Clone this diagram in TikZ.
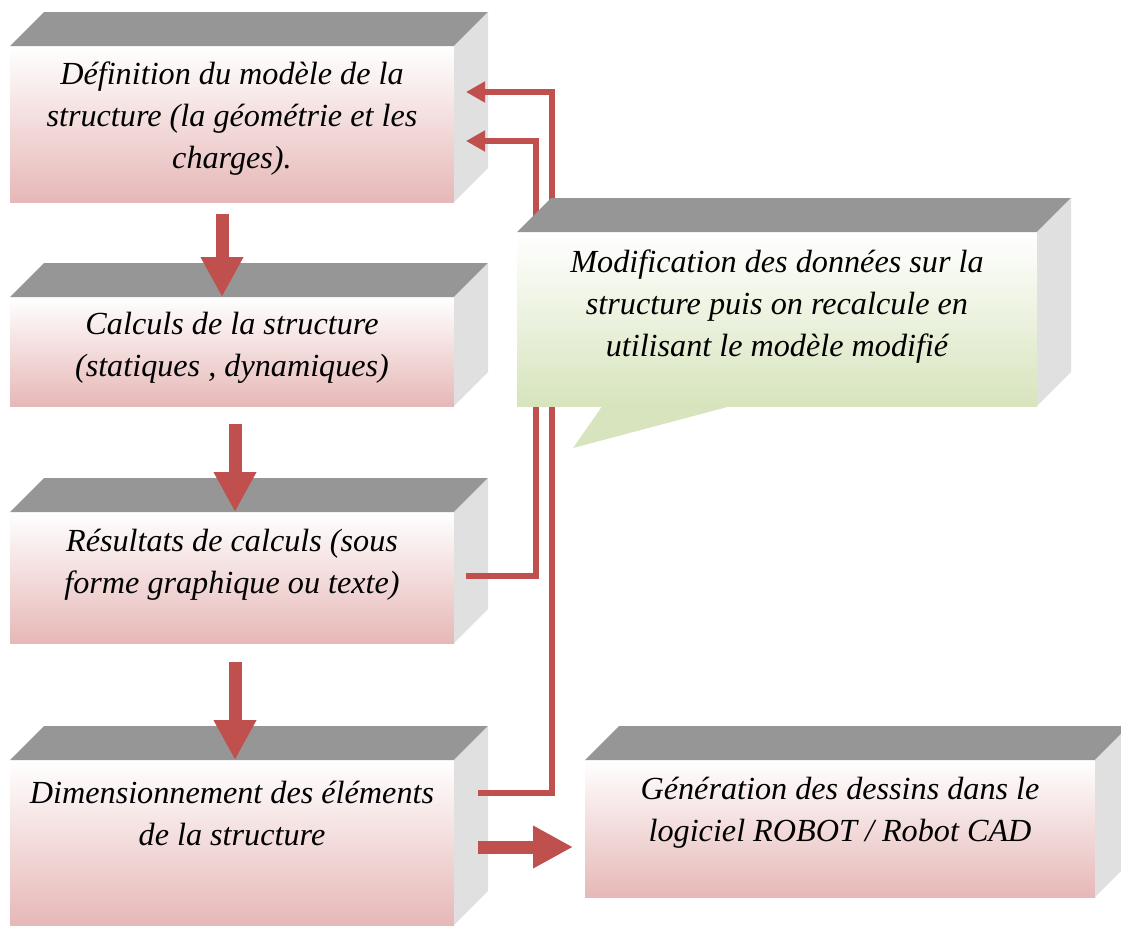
\documentclass[tikz,border=0pt]{standalone}
\usepackage{fontspec}
\setmainfont{Liberation Serif}
\usetikzlibrary{calc,arrows.meta}
\definecolor{redA}{HTML}{C0504D}
\definecolor{pinkB}{HTML}{E6B8B7}
\definecolor{greenB}{HTML}{D7E4BD}
\definecolor{topG}{HTML}{969696}
\definecolor{sideG}{HTML}{E0E0E0}
\newcommand\boxfaces[1]{%
  \fill[topG] (#1.north west) -- ++(34,-34) -- ($(#1.north east)+(34,-34)$) -- (#1.north east) -- cycle;
  \fill[sideG] (#1.north east) -- ++(34,-34) -- ($(#1.south east)+(34,-34)$) -- (#1.south east) -- cycle;}
\begin{document}
\begin{tikzpicture}[x=1pt,y=-1pt,
  front/.style={rectangle,draw=none,inner sep=0pt,outer sep=0pt,top color=white,bottom color=pinkB},
  gfront/.style={rectangle,draw=none,inner sep=0pt,outer sep=0pt,top color=white,bottom color=greenB},
  txt/.style={align=center,inner sep=0pt,font=\itshape\fontsize{32.2}{42}\selectfont},
  bigarrow/.style={draw=redA,line width=13pt,-{Triangle[length=40pt,width=40pt]}},
  fbline/.style={draw=redA,line width=6pt,line join=miter,-{Triangle[length=19pt,width=20pt]}}]
\useasboundingbox (0,0) rectangle (1121,927);
% main boxes
\node[front,minimum width=444pt,minimum height=156pt] (b1) at (232,124) {};
\boxfaces{b1}
\node[front,minimum width=444pt,minimum height=109pt] (b2) at (232,351.5) {};
\boxfaces{b2}
\node[front,minimum width=444pt,minimum height=131pt] (b3) at (232,577.5) {};
\boxfaces{b3}
\node[front,minimum width=444pt,minimum height=165pt] (b4) at (232,842.5) {};
\boxfaces{b4}
\node[front,minimum width=510pt,minimum height=137pt] (b5) at (840,828.5) {};
\boxfaces{b5}
% feedback lines
\coordinate (o1) at (478,793);
\coordinate (o2) at (552,793);
\coordinate (o3) at (552,92);
\coordinate (o4) at (466,92);
\coordinate (i1) at (466,576);
\coordinate (i2) at (536,576);
\coordinate (i3) at (536,141);
\coordinate (i4) at (466,141);
\draw[fbline] (o1) -- (o2) -- (o3) -- (o4);
\draw[fbline] (i1) -- (i2) -- (i3) -- (i4);
% callout
\fill[greenB] (603,405) -- (573,448) -- (735,405) -- cycle;
\node[gfront,minimum width=520pt,minimum height=174pt] (c) at (777,319) {};
\boxfaces{c}
% texts
\node[txt] (t1) at (232,119) {Définition du modèle de la\\structure (la géométrie et les\\charges).};
\node[txt] (t2) at (232,348) {Calculs de la structure\\(statiques , dynamiques)};
\node[txt] (t3) at (232,565) {Résultats de calculs (sous\\forme graphique ou texte)};
\node[txt] (t4) at (232,813) {Dimensionnement des éléments\\de la structure};
\node[txt] (t5) at (840,813) {Génération des dessins dans le\\logiciel ROBOT / Robot CAD};
\node[txt] (t6) at (777,307) {Modification des données sur la\\structure puis on recalcule en\\utilisant le modèle modifié};
% block arrows
\draw[bigarrow] ($(b1.south)+(-10,12)$) -- ($(b2.north)+(-10,0)$);
\draw[bigarrow] ($(b2.south)+(3,18)$) -- ($(b3.north)+(3,0)$);
\draw[bigarrow] ($(b3.south)+(3,19)$) -- ($(b4.north)+(3,0)$);
\draw[bigarrow] (478,847) -- (573,847);
\end{tikzpicture}
\end{document}
